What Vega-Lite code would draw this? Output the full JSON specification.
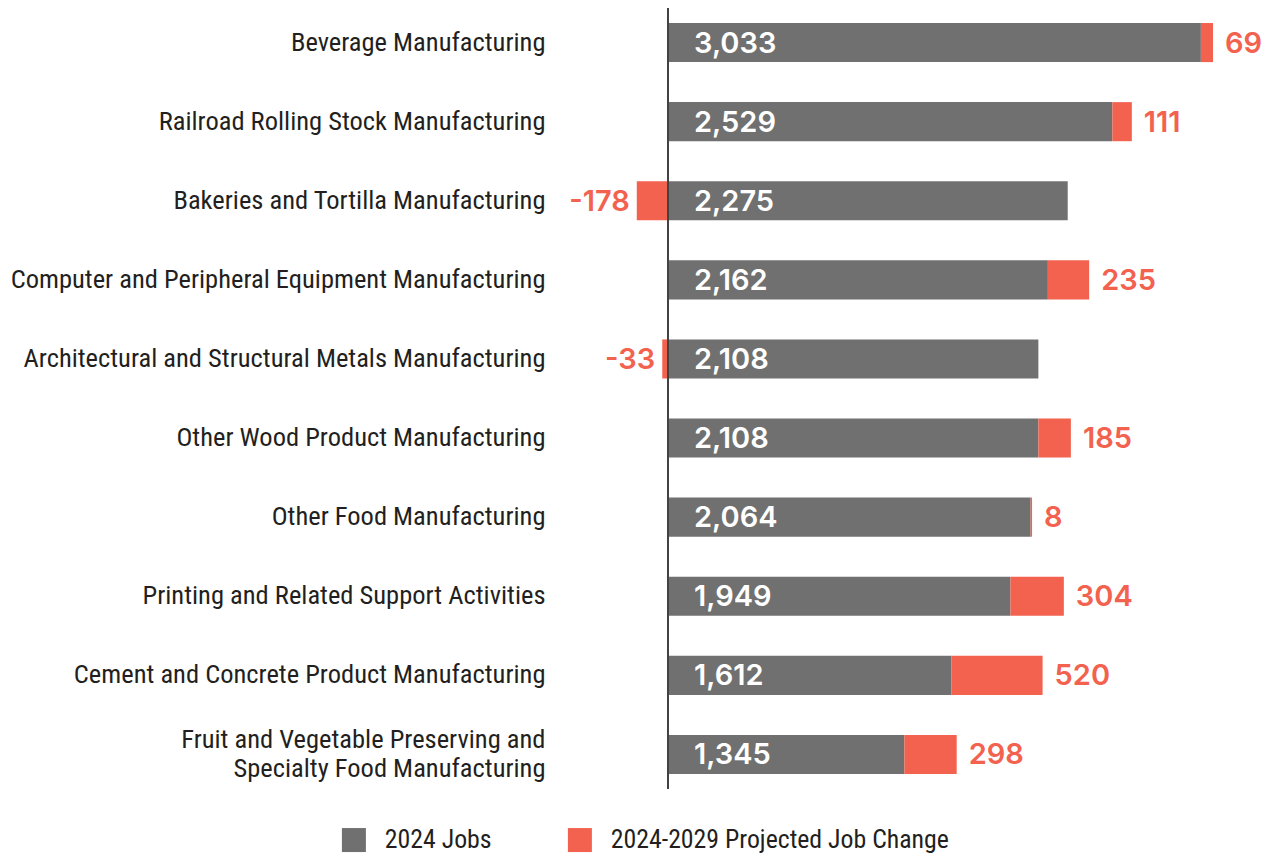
{
  "$schema": "https://vega.github.io/schema/vega-lite/v6.json",
  "autosize": {"type": "none"},
  "padding": {"left": 589, "top": 8, "right": 9, "bottom": 67},
  "width": 676,
  "height": 781,
  "background": "white",
  "config": {
    "view": {"stroke": null},
    "locale": {"number": {"decimal": ".", "thousands": ",", "grouping": [3], "currency": ["$", ""], "minus": "-"}},
    "legend": {
      "orient": "none",
      "legendX": -248,
      "legendY": 819,
      "direction": "horizontal",
      "symbolType": "square",
      "symbolSize": 576,
      "symbolStrokeWidth": 0,
      "labelFont": "Roboto Condensed, sans-serif",
      "labelFontSize": 25.8,
      "labelColor": "#231f20",
      "labelOffset": 18,
      "labelLimit": 600,
      "columnPadding": 75,
      "padding": 0,
      "title": null
    }
  },
  "data": {
    "values": [
      {"industry": "Beverage Manufacturing", "series": "2024 Jobs", "value": 3033},
      {"industry": "Beverage Manufacturing", "series": "2024-2029 Projected Job Change", "value": 69},
      {"industry": "Railroad Rolling Stock Manufacturing", "series": "2024 Jobs", "value": 2529},
      {"industry": "Railroad Rolling Stock Manufacturing", "series": "2024-2029 Projected Job Change", "value": 111},
      {"industry": "Bakeries and Tortilla Manufacturing", "series": "2024 Jobs", "value": 2275},
      {"industry": "Bakeries and Tortilla Manufacturing", "series": "2024-2029 Projected Job Change", "value": -178},
      {"industry": "Computer and Peripheral Equipment Manufacturing", "series": "2024 Jobs", "value": 2162},
      {"industry": "Computer and Peripheral Equipment Manufacturing", "series": "2024-2029 Projected Job Change", "value": 235},
      {"industry": "Architectural and Structural Metals Manufacturing", "series": "2024 Jobs", "value": 2108},
      {"industry": "Architectural and Structural Metals Manufacturing", "series": "2024-2029 Projected Job Change", "value": -33},
      {"industry": "Other Wood Product Manufacturing", "series": "2024 Jobs", "value": 2108},
      {"industry": "Other Wood Product Manufacturing", "series": "2024-2029 Projected Job Change", "value": 185},
      {"industry": "Other Food Manufacturing", "series": "2024 Jobs", "value": 2064},
      {"industry": "Other Food Manufacturing", "series": "2024-2029 Projected Job Change", "value": 8},
      {"industry": "Printing and Related Support Activities", "series": "2024 Jobs", "value": 1949},
      {"industry": "Printing and Related Support Activities", "series": "2024-2029 Projected Job Change", "value": 304},
      {"industry": "Cement and Concrete Product Manufacturing", "series": "2024 Jobs", "value": 1612},
      {"industry": "Cement and Concrete Product Manufacturing", "series": "2024-2029 Projected Job Change", "value": 520},
      {"industry": "Fruit and Vegetable Preserving and|Specialty Food Manufacturing", "series": "2024 Jobs", "value": 1345},
      {"industry": "Fruit and Vegetable Preserving and|Specialty Food Manufacturing", "series": "2024-2029 Projected Job Change", "value": 298}
    ]
  },
  "transform": [
    {"stack": "value", "groupby": ["industry"], "sort": [{"field": "series", "order": "ascending"}], "as": ["v0", "v1"]}
  ],
  "layer": [
    {
      "mark": {"type": "bar"},
      "encoding": {
        "y": {
          "field": "industry",
          "type": "nominal",
          "sort": [
            "Beverage Manufacturing",
            "Railroad Rolling Stock Manufacturing",
            "Bakeries and Tortilla Manufacturing",
            "Computer and Peripheral Equipment Manufacturing",
            "Architectural and Structural Metals Manufacturing",
            "Other Wood Product Manufacturing",
            "Other Food Manufacturing",
            "Printing and Related Support Activities",
            "Cement and Concrete Product Manufacturing",
            "Fruit and Vegetable Preserving and|Specialty Food Manufacturing"
          ],
          "scale": {"paddingInner": 0.506, "paddingOuter": 0.19},
          "axis": {
            "title": null,
            "domain": false,
            "ticks": false,
            "labelPadding": 44,
            "labelLimit": 700,
            "labelFont": "Roboto Condensed, sans-serif",
            "labelFontSize": 26.5,
            "labelColor": "#231f20",
            "labelLineHeight": 29,
            "labelOffset": {"condition": {"test": "indexof(datum.value, '|') >= 0", "value": -14.5}, "value": 0},
            "labelExpr": "split(datum.label, '|')"
          }
        },
        "x": {"field": "v0", "type": "quantitative", "scale": {"domain": [-450, 3398], "nice": false, "zero": false}, "axis": null},
        "x2": {"field": "v1"},
        "color": {
          "field": "series",
          "type": "nominal",
          "scale": {"domain": ["2024 Jobs", "2024-2029 Projected Job Change"], "range": ["#6f706f", "#f2624f"]},
          "legend": {}
        }
      }
    },
    {
      "mark": {"type": "rule", "color": "#444444", "strokeWidth": 1},
      "encoding": {"x": {"datum": 0}}
    },
    {
      "transform": [{"filter": "datum.series == '2024 Jobs'"}],
      "mark": {"type": "text", "align": "left", "baseline": "middle", "dx": 26, "dy": 1, "font": "Inter", "fontWeight": 600, "fontSize": 29, "color": "white"},
      "encoding": {
        "y": {"field": "industry", "type": "nominal", "sort": null},
        "x": {"field": "v0", "type": "quantitative"},
        "text": {"field": "value", "type": "quantitative", "format": ","}
      }
    },
    {
      "transform": [{"filter": "datum.series != '2024 Jobs' && datum.value >= 0"}],
      "mark": {"type": "text", "align": "left", "baseline": "middle", "dx": 12, "dy": 1, "font": "Inter", "fontWeight": 600, "fontSize": 29, "color": "#f2624f"},
      "encoding": {
        "y": {"field": "industry", "type": "nominal", "sort": null},
        "x": {"field": "v1", "type": "quantitative"},
        "text": {"field": "value", "type": "quantitative", "format": ","}
      }
    },
    {
      "transform": [{"filter": "datum.series != '2024 Jobs' && datum.value < 0"}],
      "mark": {"type": "text", "align": "right", "baseline": "middle", "dx": -7, "dy": 1, "font": "Inter", "fontWeight": 600, "fontSize": 29, "color": "#f2624f"},
      "encoding": {
        "y": {"field": "industry", "type": "nominal", "sort": null},
        "x": {"field": "v1", "type": "quantitative"},
        "text": {"field": "value", "type": "quantitative", "format": ","}
      }
    }
  ]
}
